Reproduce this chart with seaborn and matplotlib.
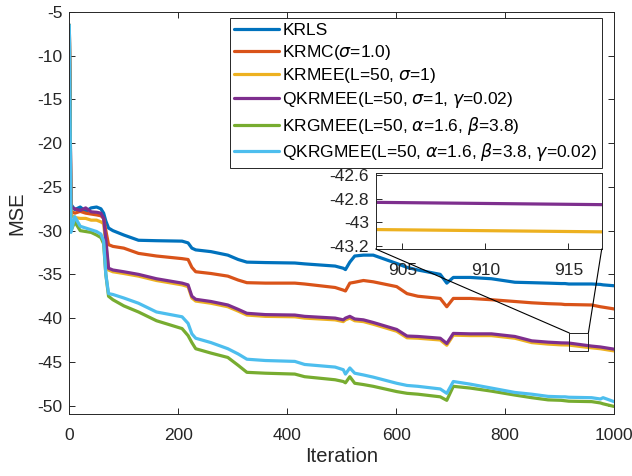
import numpy as np
import pandas as pd
import matplotlib
matplotlib.use("Agg")
import matplotlib.pyplot as plt
import seaborn as sns
from matplotlib.patches import Rectangle, ConnectionPatch

iters = [0, 3, 10, 20, 30, 40, 50, 58, 63, 67, 72, 80, 100, 127, 160, 207, 218, 225, 232,
         260, 291, 310, 326, 360, 414, 432, 488, 503, 507, 515, 524, 540, 558, 601, 620,
         640, 681, 693, 705, 736, 775, 818, 849, 879, 903, 910, 917, 959, 975, 980, 1000]

krls = [-6.5, -27.0, -27.6, -27.3, -27.8, -27.4, -27.3, -27.5, -28.0, -28.9, -29.7, -30.0,
        -30.5, -31.1, -31.15, -31.2, -31.4, -32.0, -32.2, -32.4, -32.8, -33.3, -33.6, -33.65,
        -33.7, -33.8, -34.05, -34.3, -34.45, -33.6, -32.9, -32.8, -32.8, -33.75, -34.2,
        -34.5, -35.0, -36.0, -35.35, -35.35, -35.5, -35.9, -35.95, -36.0, -36.05, -36.05,
        -36.1, -36.1, -36.15, -36.2, -36.3]

krmc = [-6.5, -27.8, -28.0, -27.8, -28.0, -28.1, -28.2, -28.3, -28.6, -30.0, -31.6, -31.8,
        -32.0, -32.6, -32.9, -33.2, -33.3, -34.2, -34.7, -34.9, -35.2, -35.65, -35.95, -36.0,
        -36.0, -36.1, -36.5, -36.8, -36.9, -36.0, -35.9, -35.7, -35.85, -36.4, -37.2,
        -37.5, -37.75, -38.7, -37.75, -37.75, -37.9, -38.1, -38.25, -38.35, -38.4, -38.45,
        -38.45, -38.5, -38.7, -38.75, -38.95]

krmee = [-6.5, -28.2, -28.5, -28.6, -28.6, -28.8, -28.8, -29.0, -29.2, -31.5, -34.5, -34.7,
         -34.9, -35.2, -35.7, -36.2, -36.4, -37.7, -38.05, -38.3, -38.7, -39.2, -39.65, -39.8,
         -39.85, -40.0, -40.2, -40.4, -40.2, -40.0, -40.3, -40.4, -40.7, -41.5, -42.25,
         -42.3, -42.5, -43.1, -41.95, -42.0, -42.0, -42.3, -42.8, -42.97, -43.06, -43.07,
         -43.08, -43.4, -43.5, -43.55, -43.75]

qkrmee = [-6.5, -27.3, -27.5, -27.7, -27.4, -27.85, -27.9, -28.0, -28.6, -31.0, -34.3, -34.5,
          -34.7, -35.0, -35.5, -36.0, -36.2, -37.5, -37.85, -38.1, -38.5, -39.0, -39.45, -39.6,
          -39.65, -39.8, -40.0, -40.2, -40.0, -39.8, -40.1, -40.2, -40.5, -41.3, -42.05,
          -42.1, -42.3, -42.9, -41.75, -41.8, -41.8, -42.1, -42.6, -42.75, -42.83, -42.84,
          -42.85, -43.2, -43.3, -43.35, -43.55]

krgmee = [-6.5, -30.0, -29.0, -30.0, -30.1, -30.2, -30.5, -30.8, -31.5, -35.0, -37.5, -37.9,
          -38.6, -39.3, -40.3, -41.2, -42.0, -42.8, -43.5, -44.0, -44.5, -45.4, -46.2, -46.3,
          -46.4, -46.7, -47.05, -47.25, -47.4, -46.7, -47.45, -47.6, -47.8, -48.4, -48.6,
          -48.7, -49.0, -49.4, -47.8, -48.0, -48.35, -48.8, -49.1, -49.35, -49.4, -49.45,
          -49.5, -49.55, -49.7, -49.8, -50.1]

qkrgmee = [-6.5, -30.2, -28.4, -29.5, -29.7, -29.9, -30.1, -30.4, -31.2, -35.0, -37.2, -37.3,
           -37.7, -38.3, -39.3, -39.85, -40.6, -41.8, -42.3, -42.8, -43.5, -44.1, -44.7, -44.85,
           -44.95, -45.3, -45.6, -45.9, -46.4, -45.7, -46.3, -46.5, -46.75, -47.45, -47.7,
           -47.8, -48.1, -48.6, -47.25, -47.55, -48.0, -48.5, -48.7, -48.95, -49.0, -49.0,
           -49.05, -49.1, -49.25, -49.1, -49.55]

labels = ["KRLS",
          r"KRMC($\sigma$=1.0)",
          r"KRMEE(L=50, $\sigma$=1)",
          r"QKRMEE(L=50, $\sigma$=1, $\gamma$=0.02)",
          r"KRGMEE(L=50, $\alpha$=1.6, $\beta$=3.8)",
          r"QKRGMEE(L=50, $\alpha$=1.6, $\beta$=3.8, $\gamma$=0.02)"]
colors = ["#0072BD", "#D95319", "#EDB120", "#7E2F8E", "#77AC30", "#4DBEEE"]
series = [krls, krmc, krmee, qkrmee, krgmee, qkrgmee]

sns.set_theme(style="ticks")
plt.rcParams["font.family"] = ["Liberation Sans", "DejaVu Sans"]
plt.rcParams["axes.unicode_minus"] = False
plt.rcParams["mathtext.fontset"] = "dejavusans"

TXT = "#262626"

fig = plt.figure(figsize=(6.32, 4.76), dpi=100)
ax = fig.add_axes([0.1097, 0.1296, 0.8618, 0.8452])

frames = []
for lab, vals in zip(labels, series):
    frames.append(pd.DataFrame({"Iteration": iters, "MSE": vals, "alg": lab}))
df = pd.concat(frames, ignore_index=True)

for lab, col in zip(labels, colors):
    sub = df[df["alg"] == lab]
    sns.lineplot(data=sub, x="Iteration", y="MSE", ax=ax, color=col, lw=2.3,
                 label=lab, estimator=None, sort=False)

ax.set_xlim(0, 1000)
ax.set_ylim(-51, -5)
ax.set_xticks([0, 200, 400, 600, 800, 1000])
ax.set_yticks([-50, -45, -40, -35, -30, -25, -20, -15, -10, -5])
ax.tick_params(direction="in", length=4, width=0.7, colors=TXT, labelsize=12.5,
               top=True, right=True, labelcolor=TXT)
ax.tick_params(axis="x", pad=10)
ax.tick_params(axis="y", pad=5)
for s in ax.spines.values():
    s.set_color(TXT)
    s.set_linewidth(0.7)
    s.set_visible(True)
ax.set_xlabel("Iteration", fontsize=14.5, color=TXT, labelpad=3)
ax.set_ylabel("MSE", fontsize=14.5, color=TXT, labelpad=8)

leg = ax.legend(loc="upper right", bbox_to_anchor=(0.9773, 0.984), borderaxespad=0,
                fontsize=12.5, frameon=True, fancybox=False, framealpha=1,
                edgecolor=TXT, handlelength=2.6, handletextpad=0.2,
                labelspacing=0.27, borderpad=0.25)
leg.get_frame().set_linewidth(0.7)
for t in leg.get_texts():
    t.set_color("black")

# zoom rectangle
ax.add_patch(Rectangle((918, -43.8), 35, 2.1, fill=False, edgecolor="#222222", lw=0.7, zorder=5))

# inset
axin = fig.add_axes([0.5945, 0.4769, 0.3576, 0.159])
for lab, col in zip(labels, colors):
    sub = df[df["alg"] == lab]
    sns.lineplot(data=sub, x="Iteration", y="MSE", ax=axin, color=col, lw=2.3,
                 estimator=None, sort=False, legend=False)
axin.set_xlim(903.4, 917)
axin.set_ylim(-43.225, -42.585)
axin.set_xticks([905, 910, 915])
axin.set_yticks([-42.6, -42.8, -43.0, -43.2])
axin.set_yticklabels(["-42.6", "-42.8", "-43", "-43.2"])
axin.set_xlabel("")
axin.set_ylabel("")
axin.tick_params(direction="in", length=4, width=0.7, colors=TXT, labelsize=12.5,
                 labelcolor=TXT)
axin.tick_params(axis="x", pad=10)
axin.tick_params(axis="y", pad=5)
for s in axin.spines.values():
    s.set_color(TXT)
    s.set_linewidth(0.7)

for xa, xb in [((918, -41.7), (0, 0)), ((953, -41.7), (1, 0))]:
    cp = ConnectionPatch(xyA=xa, coordsA=ax.transData, xyB=xb, coordsB=axin.transAxes,
                         color="black", lw=0.8)
    fig.add_artist(cp)

fig.savefig("out.png", dpi=100)
